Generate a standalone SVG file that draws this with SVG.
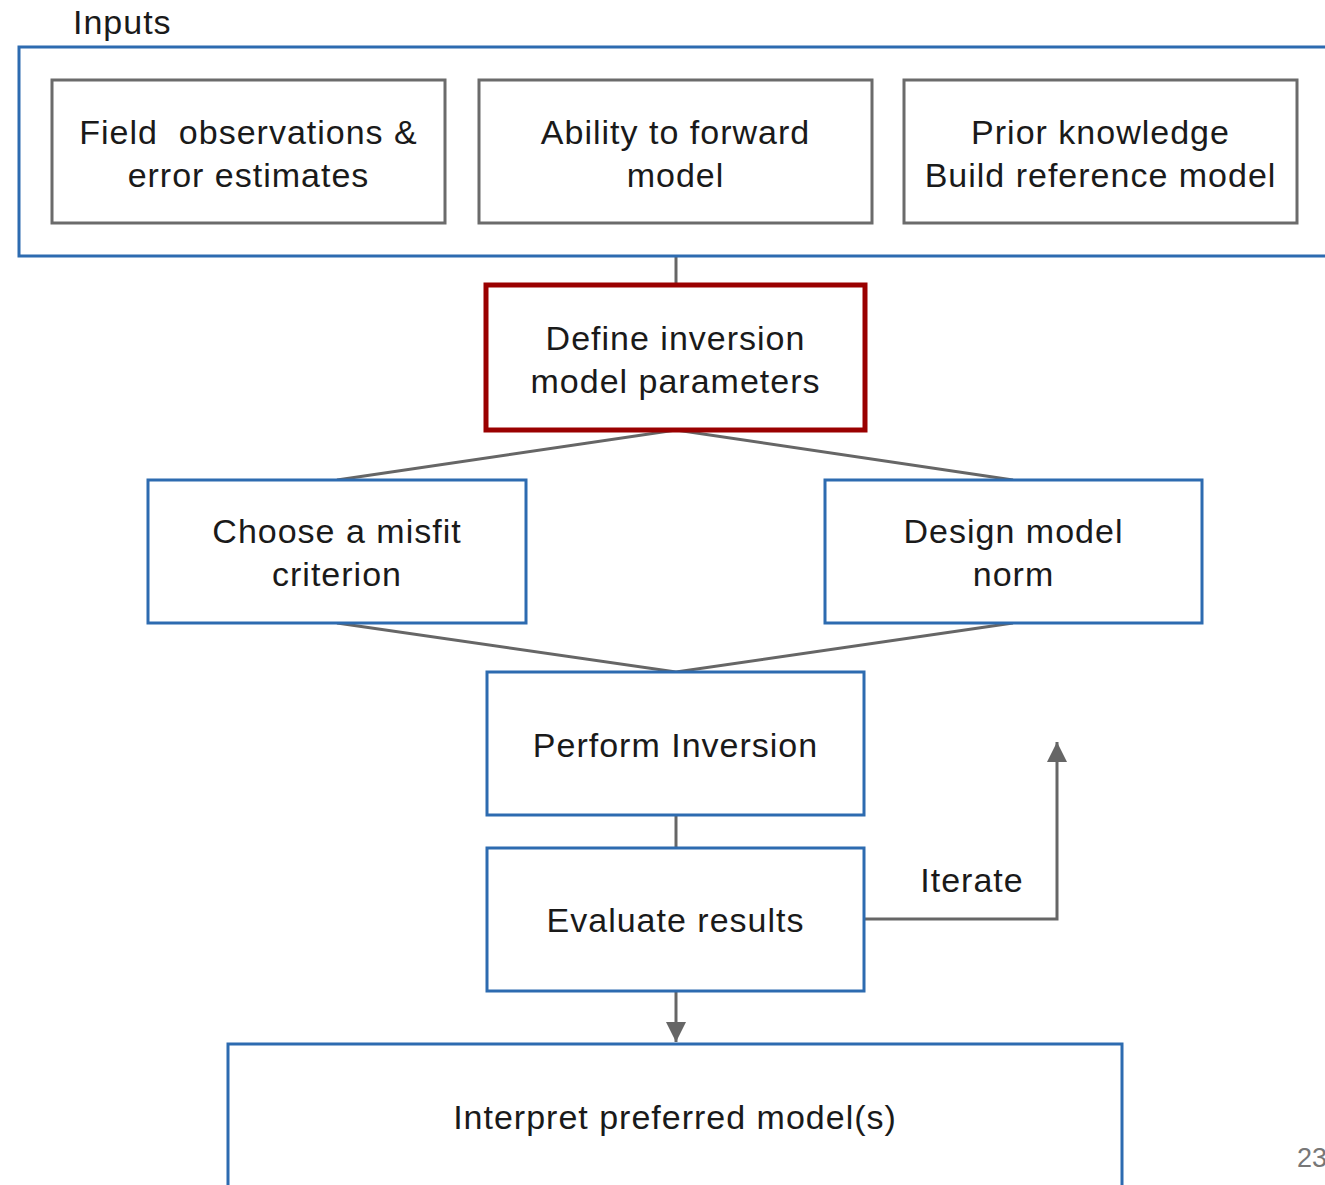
<svg xmlns="http://www.w3.org/2000/svg" width="1325" height="1185" viewBox="0 0 1325 1185">
<defs>
<style>
.t{font-family:"Liberation Sans",Arial,sans-serif;font-size:34px;letter-spacing:1px;fill:#1a1a1a;text-anchor:middle}
.g{fill:#fff;stroke:#6b6b6b;stroke-width:3}
.b{fill:#fff;stroke:#2d6bb0;stroke-width:3}
.r{fill:#fff;stroke:#9a0000;stroke-width:5}
.c{fill:none;stroke:#666;stroke-width:3}
</style>
<marker id="ah2" viewBox="0 0 10 10" refX="10" refY="5" markerWidth="22" markerHeight="20" markerUnits="userSpaceOnUse" orient="auto">
<path d="M0,0 L10,5 L0,10 z" fill="#666"/>
</marker>
</defs>
<rect width="1325" height="1185" fill="#fff"/>
<g id="connectors">
<line class="c" x1="676" y1="256" x2="676" y2="285"/>
<polyline class="c" points="337,480 676,430 1013,480"/>
<polyline class="c" points="337,623 676,672 1013,623"/>
<line class="c" x1="676" y1="815" x2="676" y2="848"/>
<line class="c" x1="676" y1="991" x2="676" y2="1042" marker-end="url(#ah2)"/>
<polyline class="c" points="864,919 1057,919 1057,742" marker-end="url(#ah2)"/>
<text class="t" x="972" y="892">Iterate</text>
</g>
<g id="inputs">
<path d="M1330,47 H19 V256 H1330" fill="none" stroke="#2d6bb0" stroke-width="3"/>
<text class="t" x="73" y="34" style="text-anchor:start">Inputs</text>
</g>
<g id="field">
<rect class="g" x="52" y="80" width="393" height="143"/>
<text class="t" x="248.5" y="144">Field&#160; observations &amp;</text>
<text class="t" x="248.5" y="187">error estimates</text>
</g>
<g id="forward">
<rect class="g" x="479" y="80" width="393" height="143"/>
<text class="t" x="675.5" y="144">Ability to forward</text>
<text class="t" x="675.5" y="187">model</text>
</g>
<g id="prior">
<rect class="g" x="904" y="80" width="393" height="143"/>
<text class="t" x="1100.5" y="144">Prior knowledge</text>
<text class="t" x="1100.5" y="187">Build reference model</text>
</g>
<g id="define">
<rect class="r" x="486" y="285" width="379" height="145"/>
<text class="t" x="675.5" y="350">Define inversion</text>
<text class="t" x="675.5" y="393">model parameters</text>
</g>
<g id="misfit">
<rect class="b" x="148" y="480" width="378" height="143"/>
<text class="t" x="337" y="543">Choose a misfit</text>
<text class="t" x="337" y="586">criterion</text>
</g>
<g id="norm">
<rect class="b" x="825" y="480" width="377" height="143"/>
<text class="t" x="1013.5" y="543">Design model</text>
<text class="t" x="1013.5" y="586">norm</text>
</g>
<g id="perform">
<rect class="b" x="487" y="672" width="377" height="143"/>
<text class="t" x="675.5" y="757">Perform Inversion</text>
</g>
<g id="evaluate">
<rect class="b" x="487" y="848" width="377" height="143"/>
<text class="t" x="675.5" y="932">Evaluate results</text>
</g>
<g id="interpret">
<rect class="b" x="228" y="1044" width="894" height="160"/>
<text class="t" x="675" y="1129">Interpret preferred model(s)</text>
</g>
<text x="1297" y="1167" style="font-family:'Liberation Sans',Arial,sans-serif;font-size:27px;fill:#777">23</text>
</svg>
